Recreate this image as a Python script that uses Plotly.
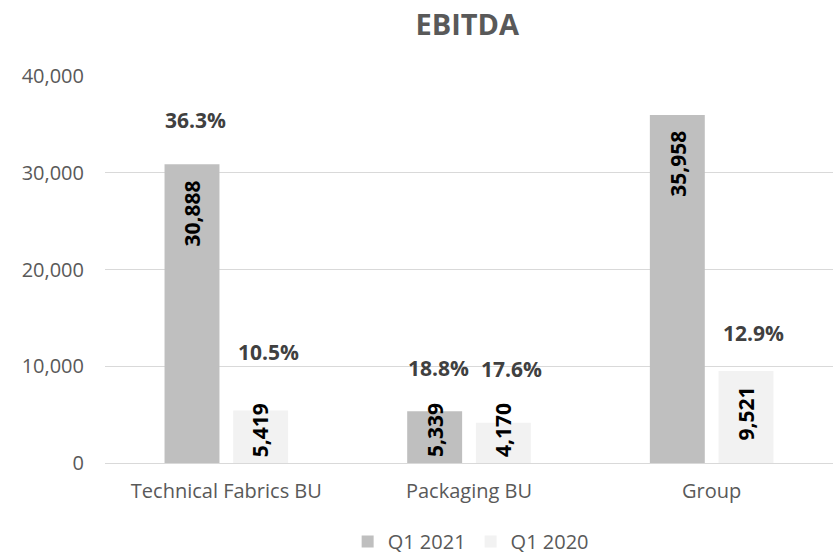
import plotly.graph_objects as go

categories = ["Technical Fabrics BU", "Packaging BU", "Group"]
ebitda_2021 = [30888, 5339, 35958]
ebitda_2020 = [5419, 4170, 9521]
margin_2021 = ["36.3%", "18.8%", "32.3%"]
margin_2020 = ["10.5%", "17.6%", "12.9%"]

# vertical placement of the margin labels (in axis units), as set by hand in the original
margin_pos_2021 = [35500, 9800, 41100]
margin_pos_2020 = [11500, 9700, 13400]

font_family = "Open Sans, Noto Sans, sans-serif"
grey_text = "#595959"
y_max = 40000
plot_h = 387  # px height of the plotting area (t=76, b=93)

fig = go.Figure()

fig.add_trace(go.Bar(
    x=categories, y=ebitda_2021, name="Q1 2021",
    marker=dict(color="#BFBFBF", line=dict(width=0)),
    hoverinfo="x+y",
))
fig.add_trace(go.Bar(
    x=categories, y=ebitda_2020, name="Q1 2020",
    marker=dict(color="#F2F2F2", line=dict(width=0)),
    hoverinfo="x+y",
))


def value_label(cat, val, shift):
    # Excel style "inside end" label; if it doesn't fit, it sits on the base
    if val * plot_h / y_max > 75:
        return dict(x=cat, y=val, xref="x", yref="y", xshift=shift, yshift=-14,
                    yanchor="top", textangle=-90, showarrow=False,
                    text="<b>{:,}</b>".format(val),
                    font=dict(size=21, color="black", family=font_family))
    return dict(x=cat, y=0, xref="x", yref="y", xshift=shift, yshift=4,
                yanchor="bottom", textangle=-90, showarrow=False,
                text="<b>{:,}</b>".format(val),
                font=dict(size=21, color="black", family=font_family))


annotations = []
for i, cat in enumerate(categories):
    annotations.append(value_label(cat, ebitda_2021[i], -34))
    annotations.append(value_label(cat, ebitda_2020[i], 34))
    annotations.append(dict(
        x=cat, y=margin_pos_2021[i], xref="x", yref="y", xshift=-31,
        text="<b>%s</b>" % margin_2021[i], showarrow=False,
        font=dict(size=21, color="#404040", family=font_family)))
    annotations.append(dict(
        x=cat, y=margin_pos_2020[i], xref="x", yref="y", xshift=42,
        text="<b>%s</b>" % margin_2020[i], showarrow=False,
        font=dict(size=21, color="#404040", family=font_family)))

fig.update_layout(
    width=833, height=556,
    title=dict(text="<b>EBITDA</b>", x=0.561, xref="container", xanchor="center",
               y=0.955, yref="container", yanchor="middle",
               font=dict(size=29, color=grey_text, family=font_family)),
    barmode="group", bargap=0.434, bargroupgap=0.2,
    plot_bgcolor="white", paper_bgcolor="white",
    margin=dict(l=105, r=0, t=76, b=93, autoexpand=False),
    font=dict(family=font_family, color=grey_text),
    xaxis=dict(showgrid=False, showline=True, linecolor="#D9D9D9", linewidth=1,
               ticks="", ticklabelstandoff=10, tickfont=dict(size=20, color=grey_text)),
    yaxis=dict(range=[0, y_max], dtick=10000, tickformat=",", showgrid=True,
               gridcolor="#D9D9D9", gridwidth=1, zeroline=False, showline=False,
               ticks="", ticklabelstandoff=20, tickfont=dict(size=20, color=grey_text)),
    legend=dict(orientation="h", x=0.565, xref="container", xanchor="center",
                y=0.026, yref="container", yanchor="middle", itemwidth=30,
                font=dict(size=20, color=grey_text)),
    annotations=annotations,
    showlegend=True,
)

# drop the default 8px body margin so the figure fills the window exactly
fig.write_html("out.html", config={"displayModeBar": False},
               post_script="document.body.style.margin='0';")
